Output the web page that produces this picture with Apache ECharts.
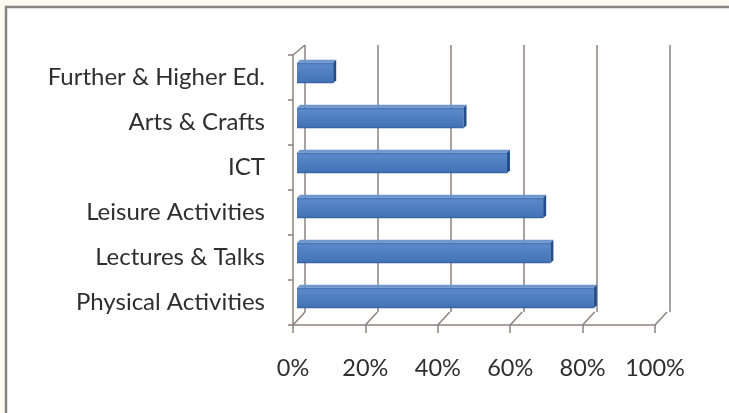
<!DOCTYPE html>
<html>
<head>
<meta charset="utf-8">
<script src="https://cdn.jsdelivr.net/npm/echarts@6/dist/echarts.min.js"></script>
<style>
  html, body { margin: 0; padding: 0; background: #fbfbf1; overflow: hidden; }
  #chart { width: 729px; height: 413px; }
</style>
</head>
<body>
<div id="chart"></div>
<script>
// Share of respondents taking part, by activity type (bottom to top)
const categories = [
  'Physical Activities',
  'Lectures & Talks',
  'Leisure Activities',
  'ICT',
  'Arts & Crafts',
  'Further & Higher Ed.'
];
const values = [82, 70, 68, 58, 46, 10];
const tickValues = [0, 20, 40, 60, 80, 100];

const FONT = 'Lato';
const GRID_COLOR = '#8d8180';
const LABEL_COLOR = '#2f2f2f';
const FRAME_COLOR = '#868482';

// depth offset from the front plane to the back wall
const WALL_DX = 12, WALL_DY = -13;

const chart = echarts.init(document.getElementById('chart'), null, { renderer: 'canvas' });

// Bars drawn with a small 3D look: front face, top face and end cap
function renderBar(params, api) {
  const v = api.value(0);
  const cat = api.value(1);
  const start = api.coord([0, cat]);
  const end = api.coord([v, cat]);
  const band = api.size([0, 1])[1];
  const h = band * 0.46;
  const sx = 4, sy = -4.5;           // bars sit a little behind the front plane
  const d = 3;                        // thickness of the bar itself
  const x0 = start[0] + sx, x1 = end[0] + sx;
  const top = start[1] + sy - h / 2, bottom = start[1] + sy + h / 2;
  return {
    type: 'group',
    children: [
      {
        type: 'polygon',
        shape: { points: [[x0, top], [x1, top], [x1 + d, top - d], [x0 + d, top - d]] },
        style: { fill: '#6f97cf' }
      },
      {
        type: 'rect',
        shape: { x: x0, y: top, width: x1 - x0, height: h },
        style: {
          fill: new echarts.graphic.LinearGradient(0, 0, 0, 1, [
            { offset: 0, color: '#3f6fb0' },
            { offset: 0.12, color: '#5b88c8' },
            { offset: 0.55, color: '#4d7dc0' },
            { offset: 0.9, color: '#4574b6' },
            { offset: 1, color: '#2f5c9a' }
          ])
        }
      },
      {
        type: 'polygon',
        shape: { points: [[x1, top], [x1 + d, top - d], [x1 + d, bottom - d], [x1, bottom]] },
        style: { fill: '#234e8a' }
      }
    ]
  };
}

// Floor gridlines: from each front tick back to the wall, plus the side wall's top edge
function renderFloor(params, api) {
  const v = api.value(0);
  const cs = params.coordSys;
  const x = api.coord([v, 0])[0];
  const yb = cs.y + cs.height;
  const children = [{
    type: 'line',
    shape: { x1: x, y1: yb, x2: x + WALL_DX, y2: yb + WALL_DY },
    style: { stroke: GRID_COLOR, lineWidth: 1.5 }
  }];
  if (params.dataIndex === 0) {
    children.push({
      type: 'line',
      shape: { x1: cs.x, y1: cs.y, x2: cs.x + WALL_DX, y2: cs.y - 10 },
      style: { stroke: GRID_COLOR, lineWidth: 1.5 }
    });
  }
  return { type: 'group', children };
}

const option = {
  animation: false,
  backgroundColor: '#fbfbf1',
  // chart area: white panel whose top and left edges carry the frame line
  graphic: [
    {
      type: 'rect', z: -10, silent: true,
      shape: { x: 6, y: 7, width: 723, height: 406 },
      style: { fill: '#ffffff' }
    },
    {
      type: 'polyline', z: -9, silent: true,
      shape: { points: [[6, 413], [6, 7], [729, 7]] },
      style: { stroke: FRAME_COLOR, lineWidth: 2.5, fill: null }
    }
  ],
  grid: [
    { left: 293, top: 55, width: 362, height: 270 },   // front plane
    { left: 305, top: 45, width: 365, height: 267 }    // back wall
  ],
  xAxis: [
    {
      gridIndex: 0, type: 'value', min: 0, max: 100, interval: 20,
      axisLine: { show: true, lineStyle: { color: GRID_COLOR, width: 1.5 } },
      axisTick: { show: true, length: 8, lineStyle: { color: GRID_COLOR, width: 1.5 } },
      axisLabel: { formatter: '{value}%', margin: 31, fontFamily: FONT, fontSize: 23.5, color: LABEL_COLOR },
      splitLine: { show: false }
    },
    {
      gridIndex: 1, type: 'value', min: 0, max: 100, interval: 20,
      axisLine: { show: false }, axisTick: { show: false }, axisLabel: { show: false },
      splitLine: { show: true, lineStyle: { color: GRID_COLOR, width: 1.5 } }
    }
  ],
  yAxis: [
    {
      gridIndex: 0, type: 'category', data: categories,
      axisLine: { show: true, lineStyle: { color: GRID_COLOR, width: 1.5 } },
      axisTick: { show: true, length: 5, lineStyle: { color: GRID_COLOR, width: 1.5 } },
      axisLabel: { margin: 28, fontFamily: FONT, fontSize: 24, color: LABEL_COLOR }
    },
    {
      gridIndex: 1, type: 'category', data: categories, show: false
    }
  ],
  series: [
    {
      type: 'custom',
      xAxisIndex: 0, yAxisIndex: 0,
      renderItem: renderFloor,
      data: tickValues.map(v => [v]),
      silent: true, z: 1
    },
    {
      type: 'custom',
      xAxisIndex: 0, yAxisIndex: 0,
      renderItem: renderBar,
      encode: { x: 0, y: 1 },
      data: values.map((v, i) => [v, i]),
      z: 5
    }
  ]
};

chart.setOption(option);
</script>
</body>
</html>
